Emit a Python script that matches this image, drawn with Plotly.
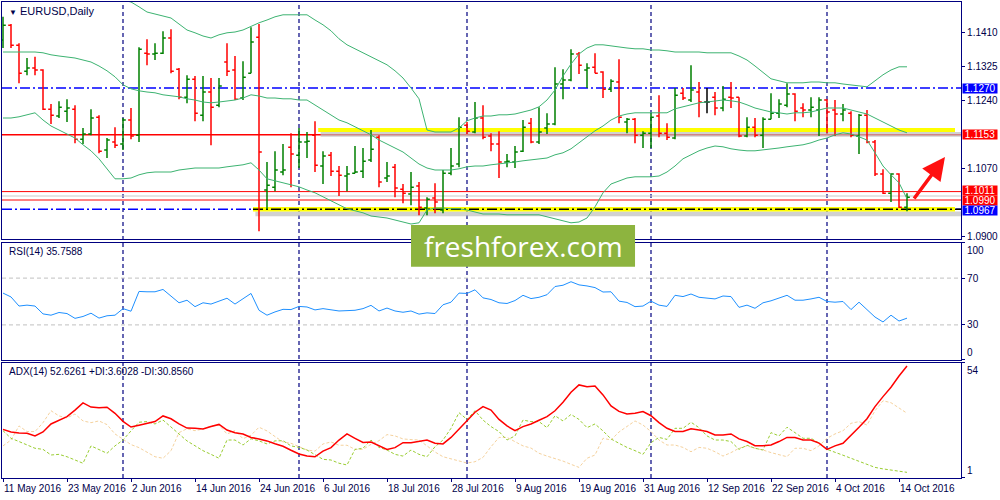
import pandas as pd
import plotly.graph_objects as go

# daily EURUSD bars, 11 May 2016 .. 17 Oct 2016
dates = [d.strftime("%Y-%m-%d") for d in pd.bdate_range("2016-05-11", "2016-10-17")]

opens = [
    1.1390, 1.1427, 1.1377, 1.1312, 1.1320, 1.1315, 1.1217, 1.1200, 1.1212, 1.1217,
    1.1142, 1.1155, 1.1197, 1.1115, 1.1135, 1.1130, 1.1190, 1.1152, 1.1357, 1.1355,
    1.1357, 1.1395, 1.1317, 1.1247, 1.1292, 1.1202, 1.1260, 1.1227, 1.1335, 1.1315,
    1.1245, 1.1307, 1.1397, 1.1015, 1.1022, 1.1060, 1.1122, 1.1102, 1.1135, 1.1152,
    1.1075, 1.1102, 1.1062, 1.1050, 1.1057, 1.1062, 1.1090, 1.1147, 1.1045, 1.1072,
    1.1017, 1.1005, 1.1025, 1.0970, 1.0995, 1.0965, 1.1057, 1.1080, 1.1177, 1.1160,
    1.1195, 1.1150, 1.1130, 1.1085, 1.1085, 1.1112, 1.1182, 1.1135, 1.1170, 1.1180,
    1.1280, 1.1290, 1.1355, 1.1315, 1.1322, 1.1310, 1.1267, 1.1285, 1.1185, 1.1192,
    1.1152, 1.1157, 1.1200, 1.1157, 1.1145, 1.1257, 1.1240, 1.1260, 1.1235, 1.1247,
    1.1220, 1.1247, 1.1247, 1.1150, 1.1172, 1.1152, 1.1192, 1.1207, 1.1227, 1.1255,
    1.1220, 1.1215, 1.1215, 1.1240, 1.1215, 1.1205, 1.1207, 1.1150, 1.1202, 1.1135,
    1.1055, 1.1007, 1.1055, 1.0972,
]
highs = [
    1.1448, 1.1430, 1.1382, 1.1345, 1.1348, 1.1317, 1.1230, 1.1237, 1.1242, 1.1227,
    1.1170, 1.1217, 1.1202, 1.1145, 1.1172, 1.1195, 1.1220, 1.1372, 1.1392, 1.1382,
    1.1412, 1.1417, 1.1320, 1.1302, 1.1300, 1.1300, 1.1295, 1.1295, 1.1382, 1.1350,
    1.1337, 1.1422, 1.1430, 1.1085, 1.1112, 1.1130, 1.1157, 1.1170, 1.1160, 1.1187,
    1.1112, 1.1110, 1.1075, 1.1075, 1.1125, 1.1120, 1.1165, 1.1152, 1.1085, 1.1080,
    1.1030, 1.1060, 1.1035, 1.0997, 1.1032, 1.1065, 1.1120, 1.1197, 1.1185, 1.1235,
    1.1227, 1.1157, 1.1162, 1.1105, 1.1125, 1.1190, 1.1195, 1.1222, 1.1207, 1.1322,
    1.1317, 1.1367, 1.1360, 1.1332, 1.1357, 1.1312, 1.1292, 1.1342, 1.1195, 1.1195,
    1.1162, 1.1207, 1.1252, 1.1182, 1.1270, 1.1270, 1.1327, 1.1285, 1.1270, 1.1260,
    1.1275, 1.1285, 1.1247, 1.1197, 1.1195, 1.1197, 1.1257, 1.1242, 1.1282, 1.1257,
    1.1232, 1.1247, 1.1247, 1.1242, 1.1240, 1.1230, 1.1212, 1.1205, 1.1215, 1.1140,
    1.1067, 1.1057, 1.1057, 1.1007,
]
lows = [
    1.1370, 1.1370, 1.1282, 1.1302, 1.1302, 1.1215, 1.1180, 1.1195, 1.1185, 1.1132,
    1.1130, 1.1152, 1.1107, 1.1095, 1.1120, 1.1115, 1.1142, 1.1135, 1.1327, 1.1340,
    1.1355, 1.1307, 1.1242, 1.1232, 1.1187, 1.1187, 1.1127, 1.1222, 1.1300, 1.1240,
    1.1240, 1.1307, 1.0912, 1.0967, 1.1012, 1.1052, 1.1022, 1.1070, 1.1095, 1.1060,
    1.1030, 1.1050, 1.1000, 1.1012, 1.1057, 1.1045, 1.1085, 1.1022, 1.1035, 1.0997,
    1.0982, 1.0977, 1.0952, 1.0952, 1.0957, 1.0957, 1.1052, 1.1072, 1.1155, 1.1157,
    1.1142, 1.1112, 1.1045, 1.1072, 1.1070, 1.1110, 1.1132, 1.1130, 1.1155, 1.1177,
    1.1242, 1.1287, 1.1305, 1.1270, 1.1307, 1.1245, 1.1260, 1.1182, 1.1157, 1.1132,
    1.1120, 1.1120, 1.1147, 1.1140, 1.1142, 1.1240, 1.1235, 1.1197, 1.1207, 1.1202,
    1.1212, 1.1220, 1.1147, 1.1147, 1.1147, 1.1120, 1.1192, 1.1195, 1.1222, 1.1187,
    1.1197, 1.1197, 1.1150, 1.1157, 1.1150, 1.1187, 1.1147, 1.1105, 1.1132, 1.1050,
    1.1005, 1.0985, 1.0970, 1.0962,
]
closes = [
    1.1427, 1.1377, 1.1307, 1.1320, 1.1315, 1.1217, 1.1202, 1.1222, 1.1220, 1.1142,
    1.1155, 1.1195, 1.1112, 1.1140, 1.1127, 1.1190, 1.1150, 1.1367, 1.1355, 1.1357,
    1.1395, 1.1312, 1.1247, 1.1292, 1.1207, 1.1260, 1.1222, 1.1275, 1.1312, 1.1242,
    1.1297, 1.1385, 1.1110, 1.1027, 1.1065, 1.1065, 1.1105, 1.1135, 1.1137, 1.1077,
    1.1100, 1.1062, 1.1052, 1.1055, 1.1060, 1.1087, 1.1117, 1.1035, 1.1050, 1.1020,
    1.1007, 1.1022, 1.0972, 1.0992, 1.0985, 1.1057, 1.1075, 1.1172, 1.1162, 1.1195,
    1.1147, 1.1130, 1.1085, 1.1087, 1.1110, 1.1172, 1.1135, 1.1160, 1.1180, 1.1280,
    1.1290, 1.1355, 1.1327, 1.1320, 1.1307, 1.1267, 1.1287, 1.1197, 1.1192, 1.1152,
    1.1157, 1.1197, 1.1157, 1.1147, 1.1252, 1.1245, 1.1265, 1.1235, 1.1235, 1.1220,
    1.1242, 1.1245, 1.1150, 1.1172, 1.1152, 1.1192, 1.1207, 1.1230, 1.1255, 1.1212,
    1.1215, 1.1222, 1.1240, 1.1210, 1.1205, 1.1215, 1.1152, 1.1202, 1.1135, 1.1055,
    1.1007, 1.1055, 1.0972, 1.0997,
]

# Bollinger Bands (20)
bb_upper = [
    1.1565, 1.1560, 1.1555, 1.1550, 1.1545, 1.1540, 1.1535, 1.1530, 1.1525, 1.1520,
    1.1515, 1.1510, 1.1505, 1.1500, 1.1495, 1.1490, 1.1485, 1.1473, 1.1460, 1.1455,
    1.1450, 1.1445, 1.1430, 1.1415, 1.1408, 1.1400, 1.1395, 1.1403, 1.1408, 1.1410,
    1.1415, 1.1425, 1.1433, 1.1440, 1.1448, 1.1453, 1.1453, 1.1453, 1.1453, 1.1440,
    1.1428, 1.1413, 1.1393, 1.1378, 1.1368, 1.1360, 1.1350, 1.1340, 1.1328, 1.1313,
    1.1295, 1.1270, 1.1243, 1.1165, 1.1160, 1.1160, 1.1160, 1.1170, 1.1188, 1.1195,
    1.1200, 1.1200, 1.1203, 1.1203, 1.1205, 1.1210, 1.1215, 1.1223, 1.1240, 1.1265,
    1.1300, 1.1330, 1.1355, 1.1370, 1.1378, 1.1378, 1.1375, 1.1373, 1.1370, 1.1368,
    1.1368, 1.1365, 1.1365, 1.1363, 1.1360, 1.1360, 1.1360, 1.1360, 1.1358, 1.1358,
    1.1358, 1.1358, 1.1350, 1.1340, 1.1325, 1.1308, 1.1293, 1.1288, 1.1283, 1.1283,
    1.1283, 1.1285, 1.1285, 1.1283, 1.1283, 1.1280, 1.1278, 1.1275, 1.1273, 1.1288,
    1.1303, 1.1315, 1.1323, 1.1323,
]
bb_middle = [
    1.1360, 1.1360, 1.1360, 1.1360, 1.1360, 1.1358, 1.1353, 1.1350, 1.1348, 1.1345,
    1.1340, 1.1335, 1.1325, 1.1313, 1.1298, 1.1278, 1.1268, 1.1263, 1.1260, 1.1258,
    1.1253, 1.1250, 1.1248, 1.1243, 1.1240, 1.1235, 1.1233, 1.1235, 1.1238, 1.1240,
    1.1245, 1.1253, 1.1250, 1.1245, 1.1245, 1.1243, 1.1243, 1.1240, 1.1240, 1.1228,
    1.1215, 1.1203, 1.1190, 1.1183, 1.1173, 1.1163, 1.1153, 1.1140, 1.1130, 1.1120,
    1.1110, 1.1095, 1.1080, 1.1070, 1.1065, 1.1065, 1.1065, 1.1068, 1.1073, 1.1075,
    1.1075, 1.1078, 1.1080, 1.1083, 1.1085, 1.1088, 1.1090, 1.1093, 1.1095, 1.1103,
    1.1108, 1.1118, 1.1133, 1.1148, 1.1163, 1.1175, 1.1190, 1.1200, 1.1205, 1.1208,
    1.1208, 1.1208, 1.1208, 1.1208, 1.1218, 1.1223, 1.1228, 1.1233, 1.1235, 1.1238,
    1.1240, 1.1238, 1.1235, 1.1228, 1.1220, 1.1215, 1.1210, 1.1208, 1.1205, 1.1208,
    1.1208, 1.1210, 1.1215, 1.1220, 1.1220, 1.1220, 1.1215, 1.1210, 1.1205, 1.1195,
    1.1185, 1.1175, 1.1165, 1.1158,
]
bb_lower = [
    1.1195, 1.1195, 1.1198, 1.1203, 1.1208, 1.1190, 1.1175, 1.1165, 1.1155, 1.1145,
    1.1128, 1.1113, 1.1093, 1.1068, 1.1043, 1.1043, 1.1045, 1.1053, 1.1058, 1.1060,
    1.1060, 1.1060, 1.1065, 1.1068, 1.1070, 1.1070, 1.1070, 1.1070, 1.1073, 1.1075,
    1.1078, 1.1083, 1.1065, 1.1043, 1.1038, 1.1033, 1.1028, 1.1023, 1.1015, 1.1008,
    1.0998, 1.0988, 1.0978, 1.0968, 1.0963, 1.0958, 1.0950, 1.0948, 1.0945, 1.0940,
    1.0935, 1.0930, 1.0933, 1.0965, 1.0970, 1.0970, 1.0968, 1.0968, 1.0965, 1.0960,
    1.0955, 1.0955, 1.0955, 1.0953, 1.0953, 1.0953, 1.0953, 1.0953, 1.0948, 1.0943,
    1.0938, 1.0933, 1.0935, 1.0945, 1.0973, 1.1008, 1.1030, 1.1038, 1.1045, 1.1048,
    1.1048, 1.1048, 1.1050, 1.1060, 1.1075, 1.1093, 1.1103, 1.1113, 1.1120, 1.1125,
    1.1123, 1.1118, 1.1115, 1.1113, 1.1113, 1.1115, 1.1118, 1.1120, 1.1123, 1.1125,
    1.1128, 1.1133, 1.1140, 1.1145, 1.1153, 1.1158, 1.1155, 1.1148, 1.1140, 1.1108,
    1.1075, 1.1053, 1.1033, 1.0993,
]

rsi = [
    57.2, 53.9, 46.1, 46.9, 46.1, 39.4, 38.3, 40.6, 39.7, 35.6,
    37.2, 40.0, 35.8, 37.8, 38.3, 43.9, 41.7, 58.6, 58.3, 58.3,
    60.3, 54.4, 48.9, 51.1, 45.6, 48.9, 47.8, 50.3, 52.8, 47.8,
    52.2, 56.9, 42.5, 38.3, 41.1, 43.3, 43.1, 45.8, 45.3, 42.8,
    43.9, 42.8, 41.9, 42.2, 42.5, 43.9, 46.7, 41.9, 44.4, 41.9,
    40.8, 41.9, 39.2, 40.3, 39.7, 47.2, 49.4, 57.2, 56.9, 60.0,
    53.1, 51.7, 48.9, 48.3, 50.8, 55.3, 52.5, 53.6, 55.8, 62.8,
    63.9, 66.9, 64.2, 63.3, 61.9, 58.1, 58.3, 50.3, 49.2, 45.6,
    46.1, 50.3, 46.9, 45.8, 55.3, 54.2, 56.4, 53.6, 53.1, 52.2,
    54.7, 54.2, 45.0, 46.9, 44.2, 48.9, 50.6, 52.8, 55.3, 51.1,
    51.1, 52.2, 53.6, 50.0, 49.4, 50.0, 43.1, 49.4, 43.3, 36.7,
    32.5, 38.3, 33.3, 35.7588,
]

adx = [
    23.4, 22.2, 21.7, 21.6, 20.4, 22.2, 25.9, 27.7, 29.3, 32.3,
    35.6, 33.7, 33.4, 33.6, 30.8, 27.1, 24.5, 25.3, 26.2, 27.0,
    29.6, 28.3, 25.9, 24.0, 23.9, 23.6, 24.7, 25.7, 23.1, 21.9,
    21.3, 19.7, 19.0, 18.1, 16.8, 15.6, 13.8, 12.1, 11.1, 10.8,
    13.4, 15.0, 18.5, 21.3, 19.3, 17.4, 17.6, 15.9, 14.2, 15.0,
    17.3, 17.3, 17.9, 18.5, 17.0, 16.7, 19.7, 23.4, 27.4, 31.3,
    33.9, 32.3, 28.0, 25.0, 22.8, 24.7, 25.9, 27.6, 29.3, 32.0,
    35.9, 40.5, 43.9, 43.1, 43.4, 39.3, 34.2, 31.7, 30.5, 30.8,
    31.6, 29.7, 26.5, 23.9, 22.4, 22.4, 23.7, 23.1, 22.4, 20.8,
    20.8, 21.3, 19.0, 17.8, 15.9, 15.9, 16.2, 17.8, 19.7, 19.7,
    18.5, 18.5, 17.1, 14.2, 15.8, 17.0, 20.5, 24.4, 28.3, 33.9,
    38.5, 42.8, 48.0, 52.6261,
]
plus_di = [
    22.8, 19.3, 17.8, 16.2, 14.7, 14.2, 11.6, 11.9, 10.8, 9.3,
    7.8, 15.8, 14.2, 12.4, 15.8, 18.5, 22.7, 26.7, 27.0, 25.9,
    27.7, 24.7, 21.3, 18.1, 15.8, 13.6, 11.9, 10.1, 18.5, 18.5,
    16.2, 19.1, 18.1, 16.7, 18.1, 18.2, 15.8, 15.1, 13.9, 11.6,
    9.6, 9.3, 7.8, 7.0, 14.2, 14.7, 18.5, 15.1, 13.9, 11.9,
    11.1, 13.9, 11.9, 10.8, 15.4, 18.5, 23.9, 31.1, 28.0, 32.0,
    27.7, 24.7, 22.4, 18.5, 20.4, 27.7, 27.0, 27.0, 24.2, 29.7,
    27.3, 30.3, 28.0, 24.2, 25.9, 22.7, 19.0, 17.0, 15.1, 13.6,
    11.9, 17.3, 19.7, 18.8, 23.9, 23.9, 26.7, 24.2, 20.4, 18.5,
    18.5, 17.8, 14.2, 16.1, 14.7, 13.9, 21.9, 20.4, 24.4, 21.9,
    19.3, 19.3, 17.1, 14.2, 13.0, 11.5, 10.1, 8.7, 7.5, 5.9,
    5.2, 4.7, 4.1, 3.6028,
]
minus_di = [
    15.8, 18.5, 25.0, 22.4, 22.4, 26.5, 32.0, 29.6, 28.7, 30.5,
    27.3, 26.5, 27.3, 25.6, 21.3, 18.8, 16.4, 15.0, 13.0, 10.8,
    10.1, 13.6, 21.9, 23.7, 22.8, 23.6, 25.0, 25.4, 21.3, 22.8,
    19.1, 20.7, 24.4, 22.7, 20.1, 17.6, 17.0, 15.4, 13.9, 13.4,
    16.7, 17.6, 16.1, 16.1, 14.2, 14.2, 16.5, 18.2, 21.0, 20.4,
    19.0, 18.7, 18.5, 15.8, 13.0, 10.8, 9.9, 8.8, 7.9, 8.5,
    10.5, 15.4, 19.7, 19.7, 17.8, 15.8, 14.8, 12.4, 11.1, 10.1,
    8.8, 7.3, 5.9, 10.1, 11.6, 19.3, 18.5, 22.2, 24.7, 27.3,
    25.4, 22.4, 18.5, 16.2, 16.2, 15.1, 13.1, 15.1, 14.7, 13.1,
    11.1, 12.7, 14.7, 15.8, 14.7, 13.9, 12.7, 11.9, 10.8, 14.7,
    14.7, 13.6, 15.8, 19.3, 21.3, 22.8, 26.2, 27.0, 25.4, 32.0,
    36.6, 35.7, 33.1, 30.856,
]

# horizontal levels drawn on the chart
res_level = 1.1270
mid_level = 1.1153
up_level = 1.1011
dn_level = 1.0990
bid_level = 1.1000
sup_level = 1.0967
price_ticks = [1.1410, 1.1325, 1.1240, 1.1070, 1.0900]

NAVY = "#000080"
TXT = "#00004a"
FONT = "Liberation Sans"
FS = 10

# layout in pixels -> plot area 2..961 x 2..478
dom_main = [0.5021, 1.0]
dom_rsi = [0.2479, 0.4937]
dom_adx = [0.0, 0.2416]

fig = go.Figure()

up_idx = [i for i in range(len(dates)) if closes[i] != opens[i]]
flat_idx = [i for i in range(len(dates)) if closes[i] == opens[i]]

fig.add_trace(go.Ohlc(
    x=[dates[i] for i in up_idx], open=[opens[i] for i in up_idx],
    high=[highs[i] for i in up_idx], low=[lows[i] for i in up_idx],
    close=[closes[i] for i in up_idx],
    increasing=dict(line=dict(color="#008000", width=1.5)),
    decreasing=dict(line=dict(color="#ff0000", width=1.5)),
    tickwidth=0.35, xaxis="x", yaxis="y", hoverinfo="skip"))
fig.add_trace(go.Ohlc(
    x=[dates[i] for i in flat_idx], open=[opens[i] for i in flat_idx],
    high=[highs[i] for i in flat_idx], low=[lows[i] for i in flat_idx],
    close=[closes[i] for i in flat_idx],
    increasing=dict(line=dict(color="#000000", width=1.5)),
    decreasing=dict(line=dict(color="#000000", width=1.5)),
    tickwidth=0.35, xaxis="x", yaxis="y", hoverinfo="skip"))

for band in (bb_upper, bb_middle, bb_lower):
    fig.add_trace(go.Scatter(x=dates, y=band, mode="lines",
                             line=dict(color="#3cb371", width=1),
                             xaxis="x", yaxis="y", hoverinfo="skip"))

fig.add_trace(go.Scatter(x=dates, y=rsi, mode="lines",
                         line=dict(color="#1e90ff", width=1),
                         xaxis="x2", yaxis="y2"))

fig.add_trace(go.Scatter(x=dates, y=minus_di, mode="lines",
                         line=dict(color="#f5d29e", width=1, dash="3px,2px"),
                         xaxis="x3", yaxis="y3"))
fig.add_trace(go.Scatter(x=dates, y=plus_di, mode="lines",
                         line=dict(color="#9acd32", width=1, dash="3px,2px"),
                         xaxis="x3", yaxis="y3"))
fig.add_trace(go.Scatter(x=dates, y=adx, mode="lines",
                         line=dict(color="#ff0000", width=1.5),
                         xaxis="x3", yaxis="y3"))

shapes = []

# month separators
month_starts = [i for i in range(1, len(dates)) if dates[i][5:7] != dates[i - 1][5:7]]
for i in month_starts:
    shapes.append(dict(type="line", xref="x", yref="paper", x0=dates[i], x1=dates[i],
                       y0=0, y1=1, layer="below",
                       line=dict(color=NAVY, width=1.2, dash="4px,3px")))

# yellow highlight bands with soft shadow
def band(x0, yc, half):
    shapes.append(dict(type="rect", xref="x", yref="y", x0=x0 + 0.3, x1=119.75,
                       y0=yc - half - 0.0012, y1=yc - half, layer="below",
                       fillcolor="#bdbdbd", opacity=0.7, line=dict(width=0)))
    shapes.append(dict(type="rect", xref="x", yref="y", x0=x0, x1=119.0,
                       y0=yc - half, y1=yc + half, layer="below",
                       fillcolor="#ffff00", line=dict(width=0)))

band(39.4, 1.1165, 0.0005)
band(31.25, sup_level, 0.00055)

def hline(y, color, width=1, dash=None, x0=0, x1=1, xref="x domain"):
    shapes.append(dict(type="line", xref=xref, yref="y", x0=x0, x1=x1, y0=y, y1=y,
                       layer="below", line=dict(color=color, width=width, dash=dash)))

hline(res_level, "#0000ff", 1.5, "10px,3px,2px,3px")
hline(mid_level, "#ff0000", 1.5)
hline(up_level, "#ff0000", 1)
hline(bid_level, "#c8c8c8", 1)
hline(dn_level, "#ff0000", 1)
hline(sup_level, "#0000ff", 1.5, "10px,3px,2px,3px")
hline(sup_level, "#000000", 1.5, "10px,3px,2px,3px", x0=31.25, x1=119.75, xref="x")

# RSI levels
for lv in (70, 30):
    shapes.append(dict(type="line", xref="x2 domain", yref="y2", x0=0, x1=1, y0=lv, y1=lv,
                       layer="below", line=dict(color="#c0c0c0", width=1, dash="4px,3px")))

# watermark box
shapes.append(dict(type="rect", xref="paper", yref="paper", x0=0.4265, x1=0.6601,
                   y0=0.4440, y1=0.5315, fillcolor="#8db43f", line=dict(width=0),
                   layer="above"))

annotations = []

def tag(y, text, bg, dy=0):
    annotations.append(dict(xref="paper", yref="y", x=1, y=y, xanchor="left",
                            xshift=1, yshift=dy, text=text, showarrow=False, bgcolor=bg,
                            borderpad=0, height=9, width=34,
                            font=dict(family=FONT, size=FS, color="white")))

tag(res_level, f"{res_level:.4f}", "#0000ff")
tag(mid_level, f"{mid_level:.4f}", "#ff0000")
tag(up_level, f"{up_level:.4f}", "#ff0000", 1.5)
tag(dn_level, f"{dn_level:.4f}", "#ff0000", -0.5)
tag(sup_level, f"{sup_level:.4f}", "#0000ff", -1)

# date labels, left aligned at the bar
for i in range(0, len(dates), 8):
    d = pd.Timestamp(dates[i])
    annotations.append(dict(xref="x3", yref="paper", x=dates[i], y=0, yanchor="top",
                            xanchor="left", yshift=-3, xshift=-1, showarrow=False,
                            text=f"{d.day} {d:%b %Y}",
                            font=dict(family=FONT, size=FS, color=TXT)))

def side_label(yref, y, text, anchor):
    annotations.append(dict(xref="paper", yref=yref, x=1, y=y, xanchor="left",
                            yanchor=anchor, xshift=4, showarrow=False, text=text,
                            font=dict(family=FONT, size=FS, color=TXT)))

side_label("y2", 100, "100", "top")
side_label("y2", 0, "0", "bottom")
side_label("y3", 54, "54", "top")
side_label("y3", 1, "1", "bottom")

annotations.append(dict(xref="paper", yref="paper", x=0.005, y=0.981, xanchor="left",
                        yanchor="middle", showarrow=False,
                        text="<span style='font-size:8px'>▼</span> EURUSD,Daily",
                        font=dict(family=FONT, size=11, color=TXT)))
annotations.append(dict(xref="paper", yref="paper", x=0.005, y=0.4748, xanchor="left",
                        yanchor="middle", showarrow=False,
                        text=f"RSI(14) {rsi[-1]:.4f}",
                        font=dict(family=FONT, size=FS, color=TXT)))
annotations.append(dict(xref="paper", yref="paper", x=0.005, y=0.2227, xanchor="left",
                        yanchor="middle", showarrow=False,
                        text=f"ADX(14) {adx[-1]:.4f} +DI:{plus_di[-1]:.4f} -DI:{minus_di[-1]:.4f}",
                        font=dict(family=FONT, size=FS, color=TXT)))

annotations.append(dict(xref="paper", yref="paper", x=0.5433, y=0.4877, showarrow=False,
                        text="freshforex.com",
                        font=dict(family="Open Sans", size=28, color="white")))

# red arrow
annotations.append(dict(xref="paper", yref="paper", x=0.9833, y=0.6744,
                        ax=-32, ay=43, showarrow=True, arrowhead=2, arrowsize=1.3,
                        arrowwidth=3.5, arrowcolor="#ff1010", text=""))

axis_common = dict(showgrid=False, zeroline=False, showline=True, mirror=True,
                   linecolor=NAVY, linewidth=1.2)
xcommon = dict(axis_common, type="category", categoryorder="array", categoryarray=dates,
               range=[-0.125, 119.75], showticklabels=False)

fig.update_layout(
    width=1000, height=500,
    margin=dict(l=2, r=39, t=2, b=22),
    paper_bgcolor="white", plot_bgcolor="white",
    showlegend=False, hovermode=False,
    shapes=shapes, annotations=annotations,
    xaxis=dict(xcommon, anchor="y", domain=[0, 1], rangeslider=dict(visible=False)),
    xaxis2=dict(xcommon, anchor="y2", domain=[0, 1], matches="x"),
    xaxis3=dict(xcommon, anchor="y3", domain=[0, 1], matches="x",
                ticks="outside", ticklen=3, tickcolor=NAVY,
                tickvals=dates[::8]),
    yaxis=dict(axis_common, domain=dom_main, anchor="x", side="right",
               range=[1.08925, 1.1485], tickvals=price_ticks, tickformat=".4f",
               ticks="outside", ticklen=3, tickcolor=NAVY,
               tickfont=dict(family=FONT, size=FS, color=TXT)),
    yaxis2=dict(axis_common, domain=dom_rsi, anchor="x2", side="right",
                range=[0, 100], tickvals=[0, 30, 70, 100], ticktext=["", "30", "70", ""],
                ticks="outside", ticklen=3, tickcolor=NAVY,
                tickfont=dict(family=FONT, size=FS, color=TXT)),
    yaxis3=dict(axis_common, domain=dom_adx, anchor="x3", side="right",
                range=[1, 54], tickvals=[1, 54], ticktext=["", ""],
                ticks="outside", ticklen=3, tickcolor=NAVY),
)

# the page body has a default 8px margin; drop it so the figure fills the window
fig.write_html("out.html", config={"displayModeBar": False},
               post_script="document.body.style.margin='0px';")
